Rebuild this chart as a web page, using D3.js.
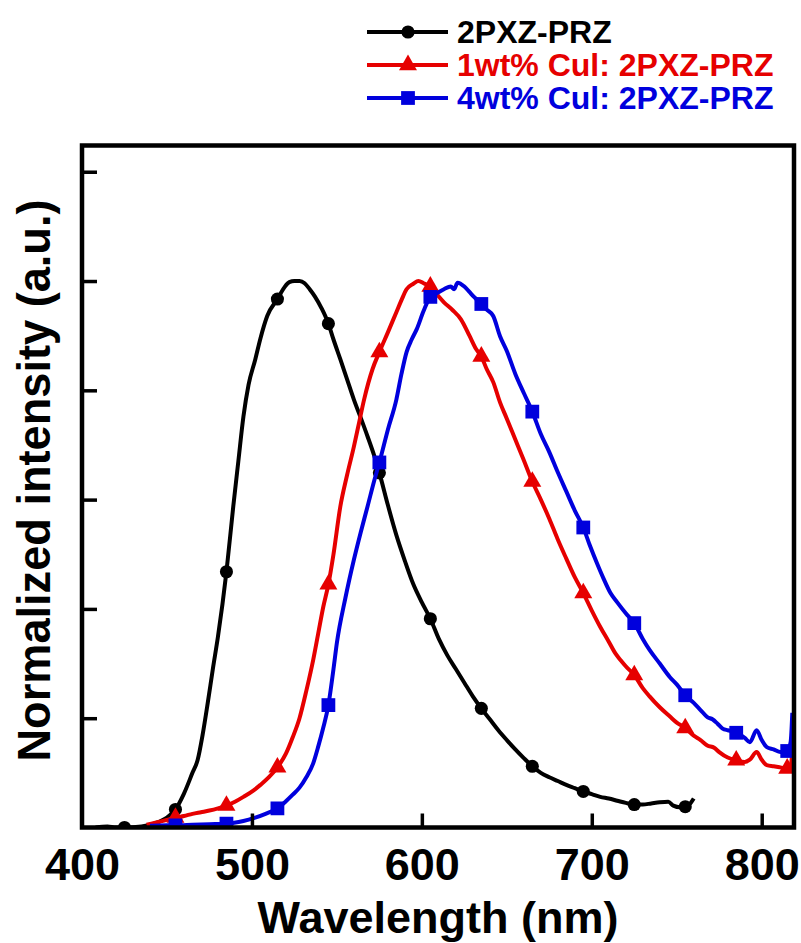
<!DOCTYPE html>
<html>
<head>
<meta charset="utf-8">
<script src="https://cdn.jsdelivr.net/npm/d3@7"></script>
<style>
  html, body { margin: 0; padding: 0; background: #fff; }
  svg { display: block; font-family: "Liberation Sans", Arial, sans-serif; font-weight: bold; }
</style>
</head>
<body>
<svg id="chart" width="801" height="943"></svg>
<script>
// ---------- data ----------
const seriesLabels = ["2PXZ-PRZ", "1wt% Cul: 2PXZ-PRZ", "4wt% Cul: 2PXZ-PRZ"];
const seriesColors = ["#000000", "#e60000", "#0000dd"];
const seriesSymbols = ["circle", "triangle", "square"];

const xTicks = [400, 500, 600, 700, 800];
const yTicks = [0.2, 0.4, 0.6, 0.8, 1.0, 1.2];

// 2PXZ-PRZ  [wavelength nm, normalized intensity]
const black = [
  [408,0.0],[415,0.002],[420,0.0],[425,0.0],[435,0.002],[440,0.005],[445,0.01],[450,0.018],
  [455,0.033],[460,0.062],[465,0.1],[468,0.123],[471,0.17],[474,0.228],[477,0.29],[480,0.349],
  [485,0.468],[489,0.587],[492,0.67],[495,0.752],[498,0.81],[502,0.857],[505,0.895],[509,0.936],
  [515,0.967],[519,0.988],[522,0.998],[525,1.0],[528,1.0],[531,0.996],[534,0.985],[537,0.972],
  [541,0.95],[545,0.922],[548,0.893],[552,0.857],[556,0.82],[560,0.783],[564,0.75],[568,0.716],
  [572,0.68],[575,0.649],[580,0.59],[585,0.535],[590,0.488],[595,0.445],[600,0.412],[605,0.382],
  [610,0.345],[615,0.315],[620,0.29],[625,0.265],[630,0.24],[635,0.218],[640,0.198],[645,0.178],
  [650,0.16],[655,0.143],[660,0.127],[665,0.112],[670,0.1],[675,0.092],[680,0.085],[685,0.078],
  [690,0.072],[695,0.066],[700,0.061],[705,0.056],[710,0.053],[715,0.049],[720,0.045],[725,0.042],
  [730,0.042],[735,0.044],[740,0.046],[745,0.047],[748,0.04],[752,0.037],[755,0.038],[758,0.044],[760,0.053]
];
// 1wt% CuI: 2PXZ-PRZ
const red = [
  [438,0.005],[445,0.01],[450,0.014],[455,0.018],[460,0.021],[465,0.025],[470,0.028],[475,0.031],
  [480,0.035],[485,0.04],[490,0.047],[495,0.056],[501,0.068],[505,0.078],[510,0.092],[515,0.11],
  [520,0.135],[524,0.165],[528,0.2],[532,0.25],[536,0.306],[539,0.355],[542,0.404],[545,0.445],
  [548,0.5],[552,0.587],[556,0.645],[560,0.697],[563,0.74],[566,0.783],[571,0.839],[575,0.87],
  [580,0.906],[585,0.943],[588,0.965],[591,0.985],[595,0.995],[598,1.0],[601,0.996],[605,0.99],
  [609,0.975],[613,0.961],[618,0.947],[623,0.93],[628,0.9],[632,0.875],[635,0.862],[638,0.84],
  [642,0.815],[646,0.778],[650,0.748],[655,0.71],[660,0.672],[665,0.633],[670,0.6],[675,0.565],
  [680,0.527],[685,0.492],[690,0.458],[695,0.429],[700,0.397],[705,0.367],[710,0.34],[714,0.318],
  [717,0.306],[720,0.295],[725,0.279],[730,0.255],[734,0.24],[740,0.22],[746,0.203],[750,0.192],
  [755,0.182],[760,0.168],[764,0.16],[768,0.15],[772,0.146],[775,0.138],[780,0.128],[785,0.123],
  [790,0.12],[793,0.124],[797,0.138],[800,0.124],[803,0.114],[807,0.112],[811,0.11],[815,0.108],
  [817,0.112],[818,0.14]
];
// 4wt% CuI: 2PXZ-PRZ
const blue = [
  [440,0.003],[450,0.004],[455,0.004],[465,0.005],[475,0.006],[485,0.007],[495,0.012],[501,0.017],
  [508,0.025],[515,0.035],[520,0.048],[524,0.06],[528,0.073],[532,0.092],[536,0.117],[539,0.148],
  [542,0.183],[545,0.224],[548,0.29],[550,0.338],[555,0.42],[560,0.49],[564,0.54],[568,0.587],
  [572,0.635],[575,0.668],[580,0.728],[585,0.783],[588,0.83],[591,0.87],[594,0.893],[597,0.912],
  [601,0.945],[605,0.971],[609,0.978],[613,0.985],[617,0.99],[619,0.985],[621,0.997],[625,0.99],
  [628,0.98],[631,0.97],[635,0.958],[638,0.948],[642,0.936],[646,0.899],[650,0.872],[655,0.83],
  [660,0.795],[665,0.761],[670,0.72],[675,0.687],[680,0.65],[685,0.615],[690,0.58],[695,0.549],
  [699,0.515],[703,0.484],[707,0.455],[711,0.429],[715,0.412],[720,0.392],[725,0.374],[730,0.345],
  [734,0.325],[740,0.3],[746,0.275],[750,0.262],[755,0.242],[760,0.228],[764,0.215],[768,0.202],
  [771,0.198],[774,0.19],[777,0.181],[780,0.178],[783,0.176],[786,0.172],[790,0.164],[793,0.156],
  [797,0.178],[800,0.16],[803,0.147],[807,0.143],[811,0.138],[815,0.14],[817,0.156],[818,0.21]
];
const seriesData = [black, red, blue];

// marker wavelengths for each series
const blackMarkers = [425,455,485,515,545,575,605,635,665,695,725,755];
const redMarkers   = [455,485,515,545,575,605,635,665,695,725,755,785,815];
const blueMarkers  = [455,485,515,545,575,605,635,665,695,725,755,785,815];
const seriesMarkers = [blackMarkers, redMarkers, blueMarkers];

// ---------- chart ----------
const svg = d3.select("#chart");
const L = 82, R = 794, T = 145.5, B = 827.5;

const x = d3.scaleLinear().domain([400, 819]).range([L, R]);
const y = d3.scaleLinear().domain([0, 1.248]).range([B, T]);

function valueAt(data, w) {
  const i = d3.bisector(d => d[0]).left(data, w);
  if (i <= 0) return data[0][1];
  if (i >= data.length) return data[data.length - 1][1];
  const a = data[i - 1], b = data[i];
  const t = (w - a[0]) / (b[0] - a[0]);
  return a[1] + t * (b[1] - a[1]);
}

const symbolTypes = { circle: d3.symbolCircle, triangle: d3.symbolTriangle, square: d3.symbolSquare };
const symbolSizes = { circle: 135, triangle: 140, square: 190 };

const line = d3.line().curve(d3.curveMonotoneX).x(d => x(d[0])).y(d => y(d[1]));

svg.append("clipPath").attr("id", "clip")
  .append("rect").attr("x", L).attr("y", T).attr("width", R - L).attr("height", B - T);
const plot = svg.append("g").attr("clip-path", "url(#clip)");

seriesData.forEach((data, k) => {
  plot.append("path")
    .datum(data)
    .attr("d", line)
    .attr("fill", "none")
    .attr("stroke", seriesColors[k])
    .attr("stroke-width", 4)
    .attr("stroke-linejoin", "round");
  const sym = d3.symbol().type(symbolTypes[seriesSymbols[k]]).size(symbolSizes[seriesSymbols[k]]);
  plot.selectAll(null)
    .data(seriesMarkers[k])
    .enter().append("path")
    .attr("d", sym)
    .attr("transform", w => `translate(${x(w)},${y(valueAt(data, w))})`)
    .attr("fill", seriesColors[k]);
});

// axes (ticks inward)
const xAxis = d3.axisBottom(x).tickValues(xTicks).tickSizeInner(-14).tickSizeOuter(0).tickPadding(0);
const gx = svg.append("g").attr("transform", `translate(0,${B})`).call(xAxis);
gx.select(".domain").remove();
gx.selectAll(".tick line").attr("stroke", "#000").attr("stroke-width", 3.5)
  .filter(d => d === 400).remove();
gx.selectAll(".tick text")
  .attr("y", 52).attr("dy", 0)
  .attr("font-size", 45).attr("font-weight", "bold")
  .attr("font-family", "'Liberation Sans', Arial, sans-serif")
  .attr("fill", "#000");

const yAxis = d3.axisLeft(y).tickValues(yTicks).tickSizeInner(-15).tickSizeOuter(0).tickFormat("");
const gy = svg.append("g").attr("transform", `translate(${L},0)`).call(yAxis);
gy.select(".domain").remove();
gy.selectAll(".tick line").attr("stroke", "#000").attr("stroke-width", 3.5);

// frame
svg.append("rect")
  .attr("x", L).attr("y", T).attr("width", R - L).attr("height", B - T)
  .attr("fill", "none").attr("stroke", "#000").attr("stroke-width", 4.5);

// axis titles
svg.append("text")
  .attr("x", (L + R) / 2).attr("y", 933)
  .attr("text-anchor", "middle")
  .attr("font-size", 45).attr("font-weight", "bold")
  .text("Wavelength (nm)");

svg.append("text")
  .attr("transform", `translate(50,${(T + B) / 2 - 6}) rotate(-90)`)
  .attr("text-anchor", "middle")
  .attr("font-size", 47).attr("font-weight", "bold")
  .attr("textLength", 562).attr("lengthAdjust", "spacingAndGlyphs")
  .text("Normalized intensity (a.u.)");

// legend
const legY = [32, 65, 98];
seriesLabels.forEach((lab, k) => {
  const g = svg.append("g");
  g.append("line")
    .attr("x1", 367).attr("x2", 448).attr("y1", legY[k]).attr("y2", legY[k])
    .attr("stroke", seriesColors[k]).attr("stroke-width", 4);
  g.append("path")
    .attr("d", d3.symbol().type(symbolTypes[seriesSymbols[k]]).size(symbolSizes[seriesSymbols[k]])())
    .attr("transform", `translate(408,${legY[k]})`)
    .attr("fill", seriesColors[k]);
  g.append("text")
    .attr("x", 457).attr("y", legY[k] + 11)
    .attr("font-size", 32).attr("font-weight", "bold")
    .attr("fill", seriesColors[k])
    .text(lab);
});
</script>
</body>
</html>
